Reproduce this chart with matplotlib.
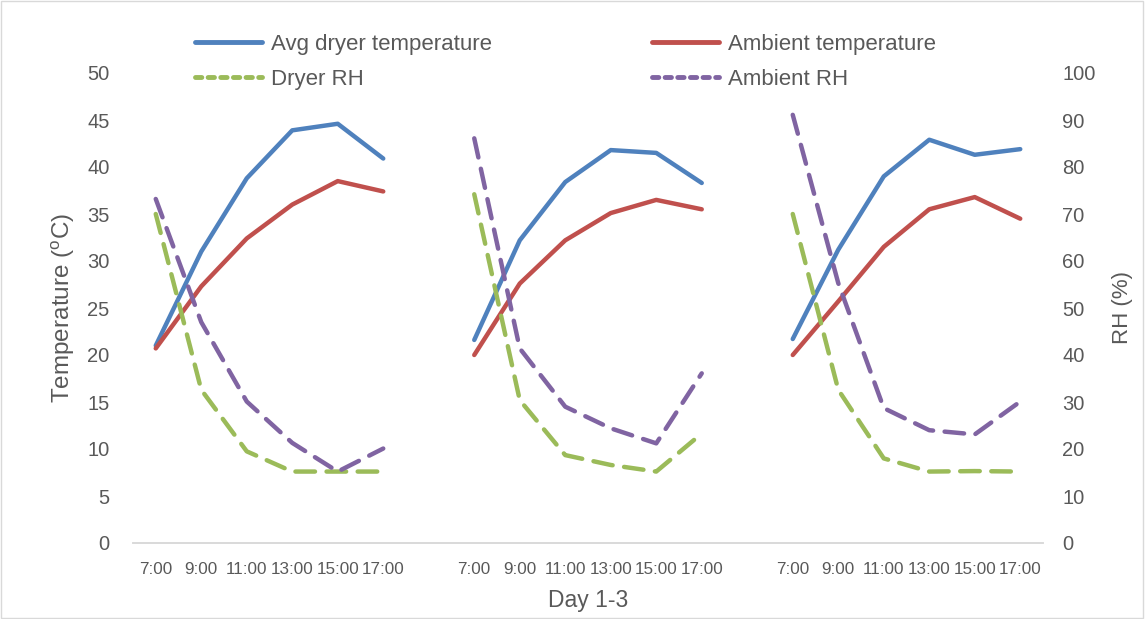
#! /usr/bin/env python3
# coding: utf-8

"""
Dryer vs ambient temperature and RH, days 1-3
"""

import numpy as np
import matplotlib
matplotlib.use('Agg')
import matplotlib.pyplot as plt
from matplotlib.patches import Rectangle
from matplotlib.lines import Line2D

plt.rcParams['font.family'] = ['Liberation Sans', 'DejaVu Sans']

hours = ['7:00', '9:00', '11:00', '13:00', '15:00', '17:00']

dryer_temp = [[21.0, 31.0, 38.8, 43.9, 44.6, 40.9],
              [21.6, 32.2, 38.4, 41.8, 41.5, 38.3],
              [21.7, 31.2, 39.0, 42.9, 41.3, 41.9]]
ambient_temp = [[20.7, 27.3, 32.4, 36.0, 38.5, 37.4],
                [20.0, 27.6, 32.2, 35.1, 36.5, 35.5],
                [20.0, 25.7, 31.5, 35.5, 36.8, 34.5]]
dryer_rh = [[70.0, 32.6, 19.5, 15.2, 15.2, 15.2],
            [74.2, 30.4, 18.7, 16.6, 15.2, 23.3],
            [70.0, 32.6, 18.0, 15.2, 15.3, 15.2]]
ambient_rh = [[73.2, 47.0, 30.1, 21.3, 15.2, 20.1],
              [86.1, 41.4, 29.0, 24.4, 21.2, 36.1],
              [91.1, 55.3, 28.7, 24.0, 23.1, 30.1]]


def join_days(days):
    """ concatène les jours avec une catégorie vide entre chaque """
    out = []
    for i, d in enumerate(days):
        if i > 0:
            out.append(np.nan)
        out.extend(d)
    return np.array(out)


labels = []
for i in range(3):
    if i > 0:
        labels.append('')
    labels.extend(hours)
x = np.arange(len(labels))

c_blue, c_red, c_green, c_purple = '#4F81BD', '#C0504D', '#9BBB59', '#8064A2'
grey = '#595959'
lw = 3.2
dash = (4.4, 2.6)

fig = plt.figure(figsize=(11.45, 6.19), dpi=100)
ax = fig.add_axes([133 / 1145, 1 - 543 / 619, 910 / 1145, 470 / 619])
ax2 = ax.twinx()

ax.plot(x, join_days(dryer_temp), c=c_blue, lw=lw, solid_capstyle='round', solid_joinstyle='round')
ax.plot(x, join_days(ambient_temp), c=c_red, lw=lw, solid_capstyle='round', solid_joinstyle='round')
ax2.plot(x, join_days(dryer_rh), c=c_green, lw=lw, dashes=dash, dash_capstyle='round', dash_joinstyle='round')
ax2.plot(x, join_days(ambient_rh), c=c_purple, lw=lw, dashes=dash, dash_capstyle='round', dash_joinstyle='round')

ax.set_xlim(-0.5, len(labels) - 0.5)
ax.set_ylim(0, 50)
ax2.set_ylim(0, 100)
ax.set_yticks(np.arange(0, 51, 5))
ax2.set_yticks(np.arange(0, 101, 10))
ax.set_xticks(x)
ax.set_xticklabels(labels)

for a in (ax, ax2):
    for s in ('top', 'left', 'right'):
        a.spines[s].set_visible(False)
    a.spines['bottom'].set_color('#D9D9D9')
    a.spines['bottom'].set_linewidth(1.2)
    a.tick_params(length=0, labelsize=14.5, labelcolor=grey)
ax.tick_params(axis='y', pad=17)
ax2.tick_params(axis='y', pad=14)
ax.tick_params(axis='x', pad=14, labelsize=12.3)

ax.set_ylabel('Temperature ($^{\\mathregular{o}}$C)', fontsize=17.5, color=grey, labelpad=7)
ax2.set_ylabel('RH (%)', fontsize=16, color=grey, labelpad=12)
ax.set_xlabel('Day 1-3', fontsize=16.5, color=grey, labelpad=8)

# légende en deux colonnes, placées à la main
h_left = [Line2D([], [], c=c_blue, lw=lw + 0.3, solid_capstyle='round'),
          Line2D([], [], c=c_green, lw=lw + 0.3, dashes=(1.3, 1.3), dash_capstyle='round')]
h_right = [Line2D([], [], c=c_red, lw=lw + 0.3, solid_capstyle='round'),
           Line2D([], [], c=c_purple, lw=lw + 0.3, dashes=(1.3, 1.3), dash_capstyle='round')]
for handles, names, x0 in ((h_left, ['Avg dryer temperature', 'Dryer RH'], 195),
                           (h_right, ['Ambient temperature', 'Ambient RH'], 652)):
    fig.legend(handles, names, loc='upper left', bbox_to_anchor=(x0 / 1145, 1 - 34 / 619),
               frameon=False, fontsize=16, labelcolor=grey, handlelength=3.0,
               handletextpad=0.4, labelspacing=0.62, borderpad=0, borderaxespad=0)

fig.patches.append(Rectangle((0.0005, 0.001), 0.998, 0.997, transform=fig.transFigure,
                             fill=False, ec='#D9D9D9', lw=1))

fig.savefig('out.png', dpi=100)
